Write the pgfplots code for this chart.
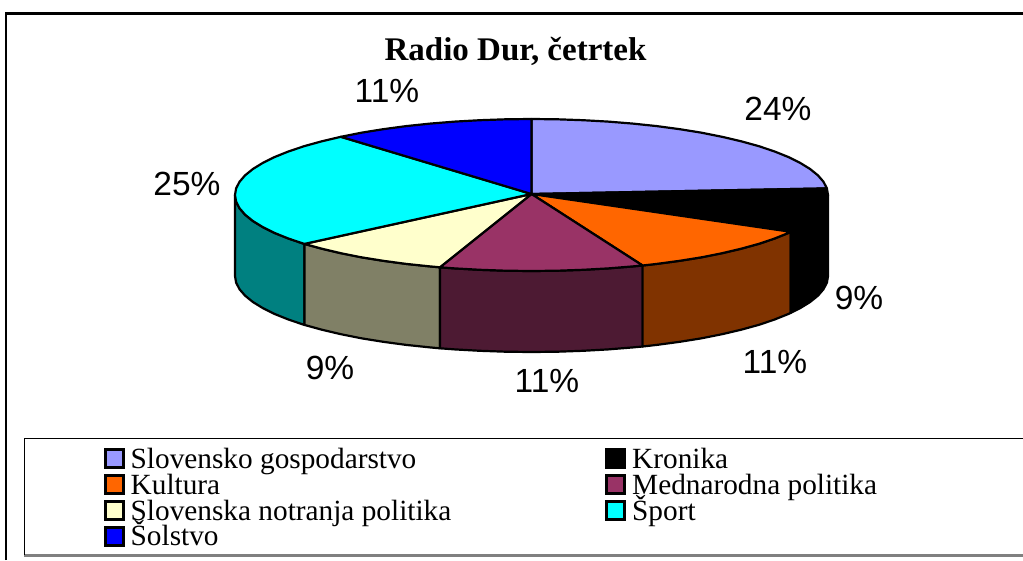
\documentclass[border=0pt]{standalone}
\usepackage{fontspec}
\setmainfont{Liberation Serif}
\newfontfamily\arial{Liberation Sans}
\usepackage{pgfplots}
\pgfplotsset{compat=1.18}
\definecolor{cLav}{HTML}{9999FF}
\definecolor{cOra}{HTML}{FF6600}
\definecolor{cPur}{HTML}{993366}
\definecolor{cYel}{HTML}{FFFFCC}
\definecolor{cCya}{HTML}{00FFFF}
\definecolor{cBlu}{HTML}{0000FF}
\definecolor{sCya}{HTML}{008080}
\definecolor{sYel}{HTML}{808066}
\definecolor{sPur}{HTML}{4D1A33}
\definecolor{sOra}{HTML}{803300}
\tikzset{pie/.style={draw=black,line width=2.2pt,line join=round,mark=none},
 sw/.style={draw=black,line width=3pt,line join=miter,mark=none},
 lg/.style={anchor=base west,inner sep=0pt,font=\fontsize{29.3}{29.3}\selectfont},
 pc/.style={anchor=base,inner sep=0pt,font=\arial\fontsize{33.5}{33.5}\selectfont}}
\begin{document}
\begin{tikzpicture}
\path[use as bounding box] (0,0) rectangle (1023pt,560pt);
\begin{axis}[at={(0,0)},anchor=south west,width=1023pt,height=560pt,scale only axis,
 xmin=0,xmax=1023,ymin=0,ymax=560,y dir=reverse,hide axis,clip=false]
% side faces
\addplot[pie,fill=sCya] coordinates {(235,195)(236.1,201.6)(239.5,208.2)(245.1,214.7)(252.9,221)(262.8,227.1)(274.7,233)(288.6,238.6)(304.4,243.9)(304.4,324.9)(288.6,319.6)(274.7,314)(262.8,308.1)(252.9,302)(245.1,295.7)(239.5,289.2)(236.1,282.6)(235,276)} --cycle;
\addplot[pie,fill=sYel] coordinates {(304.4,243.9)(321.8,248.7)(340.9,253.2)(361.4,257.3)(383.2,260.8)(406.2,263.9)(430.1,266.4)(439.9,267.3)(439.9,348.3)(430.1,347.4)(406.2,344.9)(383.2,341.8)(361.4,338.3)(340.9,334.2)(321.8,329.7)(304.4,324.9)} --cycle;
\addplot[pie,fill=sPur] coordinates {(439.9,267.3)(454.8,268.4)(480,269.8)(505.6,270.7)(531.5,271)(557.4,270.7)(583,269.8)(608.2,268.4)(632.9,266.4)(642.6,265.5)(642.6,346.5)(632.9,347.4)(608.2,349.4)(583,350.8)(557.4,351.7)(531.5,352)(505.6,351.7)(480,350.8)(454.8,349.4)(439.9,348.3)} --cycle;
\addplot[pie,fill=sOra] coordinates {(642.6,265.5)(656.8,263.9)(679.8,260.8)(701.6,257.3)(722.1,253.2)(741.2,248.7)(758.6,243.9)(774.4,238.6)(788.3,233)(790.8,231.8)(790.8,312.8)(788.3,314)(774.4,319.6)(758.6,324.9)(741.2,329.7)(722.1,334.2)(701.6,338.3)(679.8,341.8)(656.8,344.9)(642.6,346.5)} --cycle;
\addplot[pie,fill=black] coordinates {(790.8,231.8)(800.2,227.1)(810.1,221)(817.9,214.7)(823.5,208.2)(826.9,201.6)(828,195)(828,276)(826.9,282.6)(823.5,289.2)(817.9,295.7)(810.1,302)(800.2,308.1)(790.8,312.8)} --cycle;
% top faces
\addplot[pie,fill=cLav] coordinates {(531.5,194)(531.5,119)(557.4,119.3)(583,120.2)(608.2,121.6)(632.9,123.6)(656.8,126.1)(679.8,129.2)(701.6,132.7)(722.1,136.8)(741.2,141.3)(758.6,146.1)(774.4,151.4)(788.3,157)(800.2,162.9)(810.1,169)(817.9,175.3)(823.5,181.8)(826.9,188.4)} --cycle;
\addplot[pie,fill=black] coordinates {(531.5,194)(826.9,188.4)(828,195)(826.9,201.6)(823.5,208.2)(817.9,214.7)(810.1,221)(800.2,227.1)(790.8,231.8)} --cycle;
\addplot[pie,fill=cOra] coordinates {(531.5,194)(790.8,231.8)(788.3,233)(774.4,238.6)(758.6,243.9)(741.2,248.7)(722.1,253.2)(701.6,257.3)(679.8,260.8)(656.8,263.9)(642.6,265.5)} --cycle;
\addplot[pie,fill=cPur] coordinates {(531.5,194)(642.6,265.5)(632.9,266.4)(608.2,268.4)(583,269.8)(557.4,270.7)(531.5,271)(505.6,270.7)(480,269.8)(454.8,268.4)(439.9,267.3)} --cycle;
\addplot[pie,fill=cYel] coordinates {(531.5,194)(439.9,267.3)(430.1,266.4)(406.2,263.9)(383.2,260.8)(361.4,257.3)(340.9,253.2)(321.8,248.7)(304.4,243.9)} --cycle;
\addplot[pie,fill=cCya] coordinates {(531.5,194)(304.4,243.9)(288.6,238.6)(274.7,233)(262.8,227.1)(252.9,221)(245.1,214.7)(239.5,208.2)(236.1,201.6)(235,195)(236.1,188.4)(239.5,181.8)(245.1,175.3)(252.9,169)(262.8,162.9)(274.7,157)(288.6,151.4)(304.4,146.1)(321.8,141.3)(340.9,136.8)} --cycle;
\addplot[pie,fill=cBlu] coordinates {(531.5,194)(340.9,136.8)(361.4,132.7)(383.2,129.2)(406.2,126.1)(430.1,123.6)(454.8,121.6)(480,120.2)(505.6,119.3)(531.5,119)} --cycle;
% frames
\draw[black,line width=2.2pt] (6.3,560) -- (6.3,13.5) -- (1023,13.5);
\draw[gray,line width=2.4pt] (24,555.5) -- (1023,555.5);
\draw[black,line width=1.6pt] (24.5,555) -- (24.5,438.5) -- (1023,438.5);
% title and data labels
\node[anchor=base,inner sep=0pt,font=\bfseries\fontsize{33}{33}\selectfont] at (515.5,60) {Radio Dur, četrtek};
\node[pc] at (778,120.5) {24\%};
\node[pc] at (859,309) {9\%};
\node[pc] at (775,373) {11\%};
\node[pc] at (547,392) {11\%};
\node[pc] at (330,379) {9\%};
\node[pc] at (187,195) {25\%};
\node[pc] at (387,102) {11\%};
% legend swatches
\addplot[sw,fill=cLav] coordinates {(105,449)(123.5,449)(123.5,467.5)(105,467.5)} --cycle;
\addplot[sw,fill=black] coordinates {(606,449)(624.5,449)(624.5,467.5)(606,467.5)} --cycle;
\addplot[sw,fill=cOra] coordinates {(105,475)(123.5,475)(123.5,493.5)(105,493.5)} --cycle;
\addplot[sw,fill=cPur] coordinates {(606,475)(624.5,475)(624.5,493.5)(606,493.5)} --cycle;
\addplot[sw,fill=cYel] coordinates {(105,501)(123.5,501)(123.5,519.5)(105,519.5)} --cycle;
\addplot[sw,fill=cCya] coordinates {(606,501)(624.5,501)(624.5,519.5)(606,519.5)} --cycle;
\addplot[sw,fill=cBlu] coordinates {(105,527)(123.5,527)(123.5,545.5)(105,545.5)} --cycle;
\node[lg] at (130.5,468) {Slovensko gospodarstvo};
\node[lg] at (632,468) {Kronika};
\node[lg] at (130.5,494) {Kultura};
\node[lg] at (632,494) {Mednarodna politika};
\node[lg] at (130.5,520) {Slovenska notranja politika};
\node[lg] at (632,520) {Šport};
\node[lg] at (130.5,545) {Šolstvo};
\end{axis}
\end{tikzpicture}
\end{document}
